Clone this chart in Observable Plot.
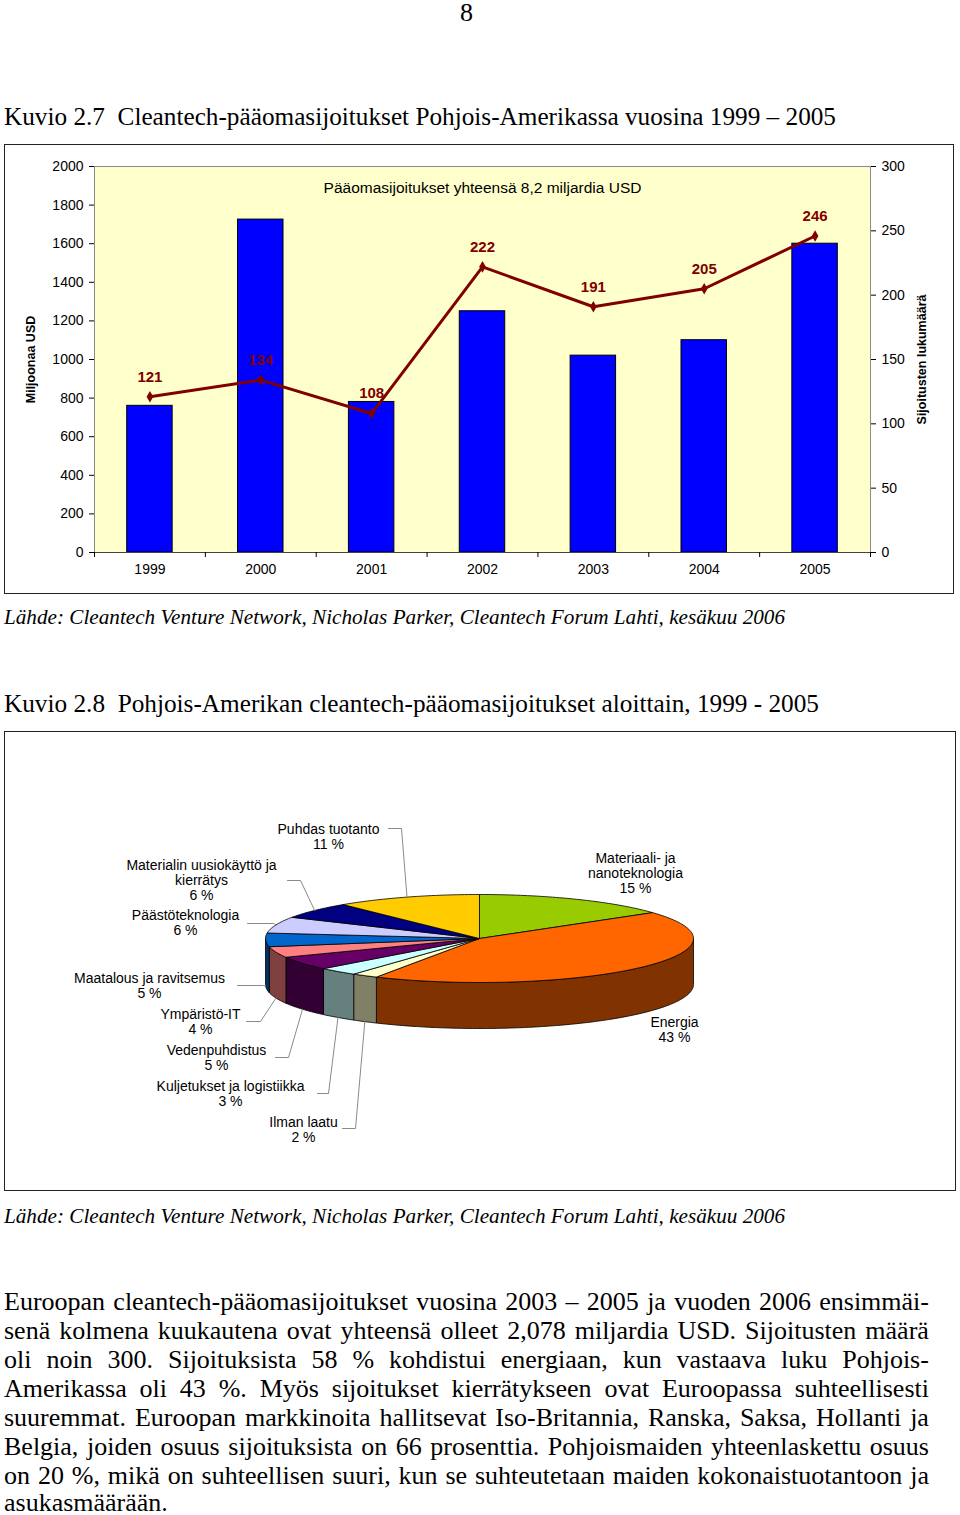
<!DOCTYPE html>
<html lang="fi">
<head>
<meta charset="utf-8">
<script src="https://cdn.jsdelivr.net/npm/d3@7"></script>
<script src="https://cdn.jsdelivr.net/npm/@observablehq/plot@0.6"></script>
<style>
html,body{margin:0;padding:0;background:#fff;}
body{width:960px;height:1515px;position:relative;overflow:hidden;color:#000;
  font-family:"Liberation Serif","Times New Roman",serif;}
.abs{position:absolute;white-space:nowrap;}
.serif26{font-size:26px;line-height:26px;}
.src{font-size:21px;line-height:21px;font-style:italic;}
.box{position:absolute;border:1.5px solid #222;box-sizing:border-box;pointer-events:none;}
.pline{position:absolute;left:4px;width:925px;display:flex;justify-content:space-between;
  font-size:26px;line-height:26px;white-space:nowrap;}
.plast{position:absolute;left:4px;font-size:26px;line-height:18px;white-space:nowrap;}
#chart1{position:absolute;left:0;top:140px;}
#chart2{position:absolute;left:4px;top:731px;}
</style>
</head>
<body>
<div class="abs serif26" id="pagenum" style="left:460px;top:0px;"></div>
<div class="abs serif26" id="title1" data-fit="832" style="left:4px;top:104px;"></div>
<div class="box" style="left:4px;top:144px;width:950px;height:450px;"></div>
<div id="chart1"></div>
<div class="abs src" id="src1" data-fit="781" style="left:4px;top:607px;"></div>
<div class="abs serif26" id="title2" data-fit="815" style="left:4px;top:691px;"></div>
<div id="chart2"></div>
<div class="box" style="left:4px;top:731px;width:952px;height:460px;"></div>
<div class="abs src" id="src2" data-fit="781" style="left:4px;top:1206px;"></div>
<div id="para"></div>

<script>
// ---------- texts ----------
const pageNumber = "8";
const title1 = "Kuvio 2.7\u00a0\u00a0Cleantech-pääomasijoitukset Pohjois-Amerikassa vuosina 1999 – 2005";
const title2 = "Kuvio 2.8\u00a0\u00a0Pohjois-Amerikan cleantech-pääomasijoitukset aloittain, 1999 - 2005";
const sourceText = "Lähde: Cleantech Venture Network, Nicholas Parker, Cleantech Forum Lahti, kesäkuu 2006";
const paragraphLines = [
  "Euroopan cleantech-pääomasijoitukset vuosina 2003 – 2005 ja vuoden 2006 ensimmäi-",
  "senä kolmena kuukautena ovat yhteensä olleet 2,078 miljardia USD. Sijoitusten määrä",
  "oli noin 300. Sijoituksista 58 % kohdistui energiaan, kun vastaava luku Pohjois-",
  "Amerikassa oli 43 %. Myös sijoitukset kierrätykseen ovat Euroopassa suhteellisesti",
  "suuremmat. Euroopan markkinoita hallitsevat Iso-Britannia, Ranska, Saksa, Hollanti ja",
  "Belgia, joiden osuus sijoituksista on 66 prosenttia. Pohjoismaiden yhteenlaskettu osuus",
  "on 20 %, mikä on suhteellisen suuri, kun se suhteutetaan maiden kokonaistuotantoon ja",
  "asukasmäärään."
];

// ---------- chart 1 data ----------
const years = [1999, 2000, 2001, 2002, 2003, 2004, 2005];
const investmentsUSD = [760, 1725, 780, 1250, 1020, 1100, 1600];   // Miljoonaa USD (bars)
const dealCounts = [121, 134, 108, 222, 191, 205, 246];            // Sijoitusten lukumäärä (line)
const leftTicks = [0, 200, 400, 600, 800, 1000, 1200, 1400, 1600, 1800, 2000];
const rightTicks = [0, 50, 100, 150, 200, 250, 300];
const chartNote = "Pääomasijoitukset yhteensä 8,2 miljardia USD";
const leftTitle = "Miljoonaa USD";
const rightTitle = "Sijoitusten lukumäärä";

// ---------- chart 2 data ----------
const sectors = ["Materiaali- ja nanoteknologia", "Energia", "Ilman laatu", "Kuljetukset ja logistiikka",
  "Vedenpuhdistus", "Ympäristö-IT", "Maatalous ja ravitsemus", "Päästöteknologia",
  "Materialin uusiokäyttö ja kierrätys", "Puhdas tuotanto"];
const shares = [15, 43, 2, 3, 5, 4, 5, 6, 6, 11];
const labelLines = [["Materiaali- ja", "nanoteknologia"], ["Energia"], ["Ilman laatu"], ["Kuljetukset ja logistiikka"],
  ["Vedenpuhdistus"], ["Ympäristö-IT"], ["Maatalous ja ravitsemus"], ["Päästöteknologia"],
  ["Materialin uusiokäyttö ja", "kierrätys"], ["Puhdas tuotanto"]];

// ---------- styles / layout ----------
const sectorColors = ["#99cc00", "#ff6600", "#ffffcc", "#ccffff", "#660066", "#ff8080", "#0066cc", "#ccccff", "#000080", "#ffcc00"];
// label anchor (first-line centre) and leader (start x, y, elbow x) in page pixels
const labelLayout = [
  {tx: 635, ty: 857}, {tx: 674, ty: 1021},
  {tx: 303, ty: 1121, lx: 342, ly: 1128, ex: 355},
  {tx: 230, ty: 1085, lx: 317, ly: 1093, ex: 328},
  {tx: 216, ty: 1049, lx: 275, ly: 1057, ex: 288},
  {tx: 200, ty: 1013, lx: 246, ly: 1021, ex: 260},
  {tx: 149, ty: 977, lx: 237, ly: 985, ex: 263},
  {tx: 185, ty: 914, lx: 247, ly: 923, ex: 273},
  {tx: 201, ty: 864, lx: 287, ly: 880, ex: 300},
  {tx: 328, ty: 828, lx: 388, ly: 828, ex: 401}
];
const pie = {cx: 479, cy: 938, rx: 214, ry: 44, depth: 46};
const sansFont = "'Liberation Sans', Arial, Helvetica, sans-serif";

// ---------- page texts ----------
document.getElementById("pagenum").textContent = pageNumber;
document.getElementById("title1").textContent = title1;
document.getElementById("title2").textContent = title2;
document.getElementById("src1").textContent = sourceText;
document.getElementById("src2").textContent = sourceText;
const para = document.getElementById("para");
paragraphLines.forEach((line, i) => {
  const div = document.createElement("div");
  let top = 1289 + i * 29;
  if (i < paragraphLines.length - 1) {
    div.className = "pline";
    line.split(" ").forEach(w => { const s = document.createElement("span"); s.textContent = w; div.appendChild(s); });
  } else {
    div.className = "plast";
    div.textContent = line;
    top += 2;
  }
  div.style.top = top + "px";
  para.appendChild(div);
});
document.querySelectorAll("[data-fit]").forEach(el => {
  const w = el.getBoundingClientRect().width;
  el.style.transformOrigin = "0 0";
  el.style.transform = `scaleX(${(+el.dataset.fit) / w})`;
});

// ---------- chart 1 ----------
const k = leftTicks[leftTicks.length - 1] / rightTicks[rightTicks.length - 1];
const barData = years.map((year, i) => ({year, usd: investmentsUSD[i], count: dealCounts[i]}));
const boundaries = [...years.map(y => y - 0.5), years[years.length - 1] + 0.5];

const chart1 = Plot.plot({
  width: 960, height: 460,
  marginLeft: 94, marginRight: 90, marginTop: 26, marginBottom: 48,
  style: {fontFamily: sansFont, fontSize: "14px", background: "transparent", overflow: "visible", color: "#000"},
  x: {type: "linear", domain: [years[0] - 0.5, years[years.length - 1] + 0.5]},
  y: {domain: [0, leftTicks[leftTicks.length - 1]]},
  marks: [
    Plot.frame({fill: "#ffffcc", stroke: "#8c8c8c"}),
    Plot.rectY(barData, {x1: d => d.year - 0.205, x2: d => d.year + 0.205, y: "usd", fill: "#0000ff", stroke: "#000", strokeWidth: 1}),
    Plot.ruleY([0], {stroke: "#444", strokeWidth: 1.2}),
    Plot.axisY({ticks: leftTicks, anchor: "left", tickSize: 5, tickPadding: 6, tickFormat: d => String(d), label: null}),
    Plot.axisY({ticks: rightTicks.map(v => v * k), anchor: "right", tickSize: 5, tickPadding: 6, tickFormat: d => String(Math.round(d / k)), label: null}),
    Plot.axisX({ticks: years, anchor: "bottom", tickSize: 0, tickPadding: 12, tickFormat: d => String(d), label: null}),
    Plot.axisX({ticks: boundaries, anchor: "bottom", tickSize: 5, tickFormat: () => "", label: null}),
    Plot.line(barData, {x: "year", y: d => d.count * k, stroke: "#800000", strokeWidth: 3, curve: "linear"}),
    Plot.dot(barData, {x: "year", y: d => d.count * k, symbol: "diamond", r: 3.5, fill: "#800000"}),
    Plot.text(barData, {x: "year", y: d => d.count * k, text: d => String(d.count), dy: -20, fill: "#800000", fontWeight: "bold", fontSize: 15}),
    Plot.text([chartNote], {frameAnchor: "top", dy: 15, fontSize: 15.5}),
    Plot.text([leftTitle], {frameAnchor: "left", textAnchor: "middle", dx: -64, rotate: -90, fontWeight: "bold", fontSize: 12.5}),
    Plot.text([rightTitle], {frameAnchor: "right", textAnchor: "middle", dx: 51, rotate: -90, fontWeight: "bold", fontSize: 12.5})
  ]
});
document.getElementById("chart1").appendChild(chart1);

// ---------- chart 2 (3D pie) ----------
let acc = 0;
const slices = sectors.map((name, i) => {
  const a0 = acc; acc += shares[i] / 100 * 360;
  return {name, share: shares[i], color: sectorColors[i], a0, a1: acc, i};
});
const ell = (deg, down = 0) => {
  const t = deg * Math.PI / 180;
  return [pie.cx + pie.rx * Math.sin(t), pie.cy - pie.ry * Math.cos(t) + down];
};
const arcAngles = (a0, a1) => {
  const n = Math.max(2, Math.ceil(a1 - a0));
  return d3.range(n + 1).map(j => a0 + (a1 - a0) * j / n);
};
const darken = c => { const r = d3.rgb(c); return d3.rgb(r.r * 0.5, r.g * 0.5, r.b * 0.5).formatHex(); };

const sidePts = slices.filter(s => s.a1 > 90 && s.a0 < 270).flatMap(s => {
  const angs = arcAngles(Math.max(s.a0, 90), Math.min(s.a1, 270));
  const pts = [...angs.map(d => ell(d)), ...angs.slice().reverse().map(d => ell(d, pie.depth))];
  pts.push(pts[0]);
  return pts.map(([x, y]) => ({id: "side" + s.i, x, y, color: darken(s.color)}));
});
const topPts = slices.flatMap(s => {
  const pts = [[pie.cx, pie.cy], ...arcAngles(s.a0, s.a1).map(d => ell(d)), [pie.cx, pie.cy]];
  return pts.map(([x, y]) => ({id: "top" + s.i, x, y, color: s.color}));
});
const leaderPts = slices.flatMap(s => {
  const L = labelLayout[s.i];
  if (L.lx === undefined) return [];
  const mid = (s.a0 + s.a1) / 2;
  const end = (mid > 90 && mid < 270) ? ell(mid, pie.depth) : ell(mid);
  return [[L.lx, L.ly], [L.ex, L.ly], end].map(([x, y]) => ({id: s.i, x, y}));
});
const labelData = slices.map(s => ({
  tx: labelLayout[s.i].tx, ty: labelLayout[s.i].ty,
  text: [...labelLines[s.i], `${s.share} %`].join("\n")
}));

const chart2 = Plot.plot({
  width: 951, height: 459, margin: 0,
  style: {fontFamily: sansFont, fontSize: "14px", background: "transparent", overflow: "visible", color: "#000"},
  x: {domain: [4, 955], range: [0, 951], axis: null},
  y: {domain: [731, 1190], range: [0, 459], axis: null},
  color: {type: "identity"},
  marks: [
    Plot.line(sidePts, {x: "x", y: "y", z: "id", fill: "color", stroke: "#000", strokeWidth: 0.8, curve: "linear"}),
    Plot.line(topPts, {x: "x", y: "y", z: "id", fill: "color", stroke: "#000", strokeWidth: 0.8, curve: "linear"}),
    Plot.line(leaderPts, {x: "x", y: "y", z: "id", stroke: "#8a8a8a", strokeWidth: 1, curve: "linear"}),
    Plot.text(labelData, {x: "tx", y: "ty", text: "text", lineAnchor: "top", dy: -5, fontSize: 14, lineHeight: 1.07, fill: "#000"})
  ]
});
document.getElementById("chart2").appendChild(chart2);
</script>
</body>
</html>
